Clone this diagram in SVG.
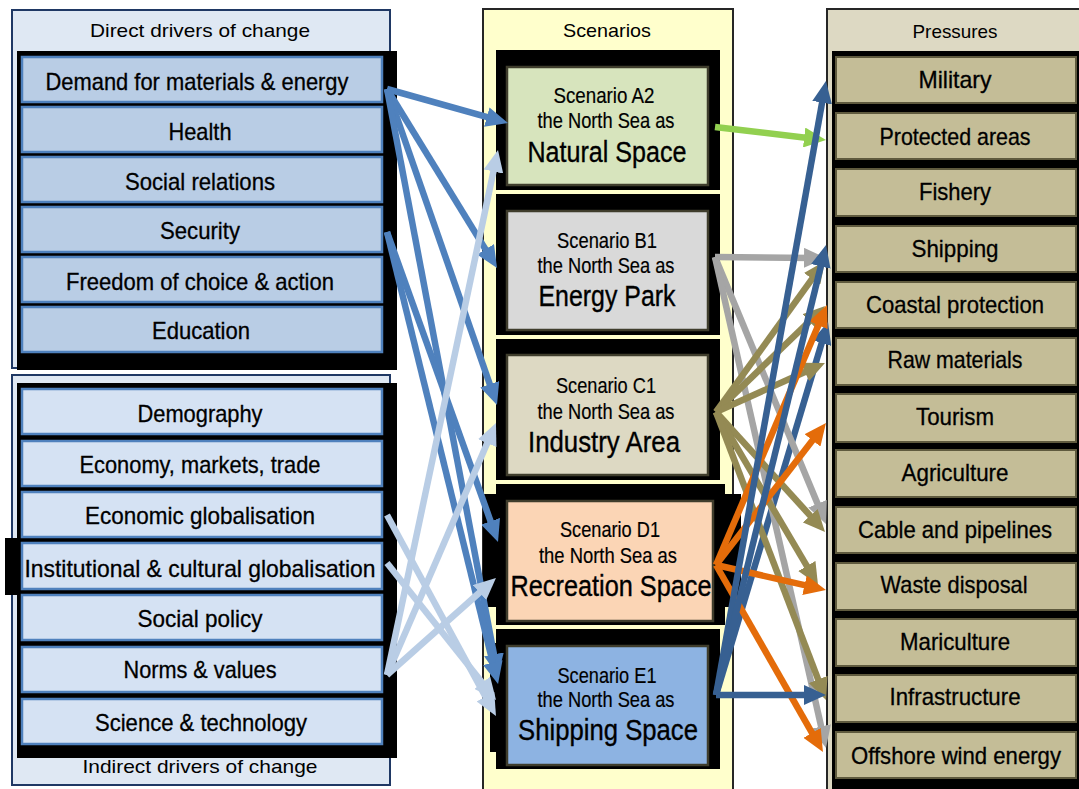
<svg xmlns="http://www.w3.org/2000/svg" width="1079" height="789" viewBox="0 0 1079 789">
<style>
.t{font-family:"Liberation Sans Narrow","Liberation Sans",Arial,sans-serif;font-size:24px;fill:#000;stroke:#000;stroke-width:0.3;text-anchor:middle}
.h{font-family:"Liberation Sans",Arial,sans-serif;font-size:19px;fill:#000;text-anchor:middle}
.s{font-family:"Liberation Sans Narrow","Liberation Sans",Arial,sans-serif;font-size:22px;fill:#000;stroke:#000;stroke-width:0.2;text-anchor:middle}
.b{font-family:"Liberation Sans Narrow","Liberation Sans",Arial,sans-serif;font-size:29px;fill:#000;stroke:#000;stroke-width:0.35;text-anchor:middle}
.blk{fill:#000}
.di{fill:#b9cde5;stroke:#4f81bd;stroke-width:2.5}
.ii{fill:#d5e2f3;stroke:#4f81bd;stroke-width:2.5}
.pi{fill:#c4bd97;stroke:#5f5a3e;stroke-width:2}
.sc{stroke:#3f3d2c;stroke-width:2.5}
.c{fill:none;stroke-width:6.5}
</style>
<defs>
<marker id="mB" viewBox="0 0 22 20" refX="8" refY="10" markerWidth="22" markerHeight="20" markerUnits="userSpaceOnUse" orient="auto"><path d="M0,0 L22,10 L0,20 z" fill="#4f81bd"/></marker>
<marker id="mL" viewBox="0 0 22 20" refX="8" refY="10" markerWidth="22" markerHeight="20" markerUnits="userSpaceOnUse" orient="auto"><path d="M0,0 L22,10 L0,20 z" fill="#b9cde5"/></marker>
<marker id="mG" viewBox="0 0 22 20" refX="8" refY="10" markerWidth="22" markerHeight="20" markerUnits="userSpaceOnUse" orient="auto"><path d="M0,0 L22,10 L0,20 z" fill="#92d050"/></marker>
<marker id="mY" viewBox="0 0 22 20" refX="8" refY="10" markerWidth="22" markerHeight="20" markerUnits="userSpaceOnUse" orient="auto"><path d="M0,0 L22,10 L0,20 z" fill="#a5a5a5"/></marker>
<marker id="mO" viewBox="0 0 22 20" refX="8" refY="10" markerWidth="22" markerHeight="20" markerUnits="userSpaceOnUse" orient="auto"><path d="M0,0 L22,10 L0,20 z" fill="#948a54"/></marker>
<marker id="mR" viewBox="0 0 22 20" refX="8" refY="10" markerWidth="22" markerHeight="20" markerUnits="userSpaceOnUse" orient="auto"><path d="M0,0 L22,10 L0,20 z" fill="#e46c0a"/></marker>
<marker id="mD" viewBox="0 0 22 20" refX="8" refY="10" markerWidth="22" markerHeight="20" markerUnits="userSpaceOnUse" orient="auto"><path d="M0,0 L22,10 L0,20 z" fill="#376092"/></marker>
</defs>
<rect width="1079" height="789" fill="#fff"/>

<g id="panel-direct">
<rect x="12" y="10" width="378" height="358" fill="#dfe8f3" stroke="#1f3864" stroke-width="2"/>
<text class="h" x="200" y="37" textLength="220" lengthAdjust="spacingAndGlyphs">Direct drivers of change</text>
<rect class="blk" x="17" y="51" width="380" height="319"/>
</g>
<g id="d-demand"><rect class="di" x="22" y="57" width="360" height="45"/><text class="t" x="197" y="90" textLength="303" lengthAdjust="spacingAndGlyphs">Demand for materials &amp; energy</text></g>
<g id="d-health"><rect class="di" x="22" y="107" width="360" height="45"/><text class="t" x="200" y="140" textLength="63" lengthAdjust="spacingAndGlyphs">Health</text></g>
<g id="d-social"><rect class="di" x="22" y="157" width="360" height="45"/><text class="t" x="200" y="190" textLength="150" lengthAdjust="spacingAndGlyphs">Social relations</text></g>
<g id="d-security"><rect class="di" x="22" y="207" width="360" height="45"/><text class="t" x="200" y="239" textLength="80" lengthAdjust="spacingAndGlyphs">Security</text></g>
<g id="d-freedom"><rect class="di" x="22" y="257" width="360" height="45"/><text class="t" x="200" y="290" textLength="268" lengthAdjust="spacingAndGlyphs">Freedom of choice &amp; action</text></g>
<g id="d-education"><rect class="di" x="22" y="307" width="360" height="45"/><text class="t" x="201" y="339" textLength="98" lengthAdjust="spacingAndGlyphs">Education</text></g>

<g id="panel-indirect">
<rect x="12" y="375" width="378" height="410" fill="#dfe8f3" stroke="#1f3864" stroke-width="2"/>
<rect class="blk" x="17" y="383" width="380" height="375"/>
<rect class="blk" x="5" y="538" width="392" height="57"/>
<text class="h" x="200" y="773" textLength="235" lengthAdjust="spacingAndGlyphs">Indirect drivers of change</text>
</g>
<g id="i-demography"><rect class="ii" x="22" y="389" width="360" height="45"/><text class="t" x="200" y="422" textLength="125" lengthAdjust="spacingAndGlyphs">Demography</text></g>
<g id="i-economy"><rect class="ii" x="22" y="441" width="360" height="45"/><text class="t" x="200" y="473" textLength="241" lengthAdjust="spacingAndGlyphs">Economy, markets, trade</text></g>
<g id="i-econglob"><rect class="ii" x="22" y="492" width="360" height="45"/><text class="t" x="200" y="524" textLength="230" lengthAdjust="spacingAndGlyphs">Economic globalisation</text></g>
<g id="i-instglob"><rect class="ii" x="22" y="543" width="360" height="46"/><text class="t" x="200" y="577" textLength="351" lengthAdjust="spacingAndGlyphs">Institutional &amp; cultural globalisation</text></g>
<g id="i-socialpolicy"><rect class="ii" x="22" y="595" width="360" height="45"/><text class="t" x="200" y="627" textLength="125" lengthAdjust="spacingAndGlyphs">Social policy</text></g>
<g id="i-norms"><rect class="ii" x="22" y="647" width="360" height="45"/><text class="t" x="200" y="678" textLength="153" lengthAdjust="spacingAndGlyphs">Norms &amp; values</text></g>
<g id="i-science"><rect class="ii" x="22" y="699" width="360" height="45"/><text class="t" x="201" y="731" textLength="212" lengthAdjust="spacingAndGlyphs">Science &amp; technology</text></g>

<g id="panel-scenarios">
<rect x="483" y="9" width="250" height="790" fill="#ffffcc" stroke="#262626" stroke-width="2"/>
<text class="h" x="607" y="37" textLength="88" lengthAdjust="spacingAndGlyphs">Scenarios</text>
</g>
<g id="s-a2">
<rect class="blk" x="496" y="50" width="224" height="140"/>
<rect class="sc" x="507" y="67" width="201" height="118" fill="#d7e4bd"/>
<text class="s" x="604" y="103" textLength="101" lengthAdjust="spacingAndGlyphs">Scenario A2</text>
<text class="s" x="606" y="128" textLength="137" lengthAdjust="spacingAndGlyphs">the North Sea as</text>
<text class="b" x="607" y="162" textLength="159" lengthAdjust="spacingAndGlyphs">Natural Space</text>
</g>
<g id="s-b1">
<rect class="blk" x="496" y="194" width="224" height="141"/>
<rect class="sc" x="507" y="211" width="201" height="119" fill="#d9d9d9"/>
<text class="s" x="607" y="248" textLength="100" lengthAdjust="spacingAndGlyphs">Scenario B1</text>
<text class="s" x="606" y="273" textLength="137" lengthAdjust="spacingAndGlyphs">the North Sea as</text>
<text class="b" x="607" y="306" textLength="137" lengthAdjust="spacingAndGlyphs">Energy Park</text>
</g>
<g id="s-c1">
<rect class="blk" x="496" y="339" width="224" height="141"/>
<rect class="sc" x="507" y="355" width="201" height="120" fill="#ddd9c3"/>
<text class="s" x="606" y="393" textLength="100" lengthAdjust="spacingAndGlyphs">Scenario C1</text>
<text class="s" x="606" y="419" textLength="137" lengthAdjust="spacingAndGlyphs">the North Sea as</text>
<text class="b" x="604" y="452" textLength="152" lengthAdjust="spacingAndGlyphs">Industry Area</text>
</g>
<g id="s-d1">
<rect class="blk" x="496" y="484" width="229" height="141"/>
<rect class="blk" x="483" y="494" width="258" height="113"/>
<rect class="sc" x="507" y="501" width="206" height="120" fill="#fbd5b5"/>
<text class="s" x="610" y="537" textLength="100" lengthAdjust="spacingAndGlyphs">Scenario D1</text>
<text class="s" x="608" y="563" textLength="138" lengthAdjust="spacingAndGlyphs">the North Sea as</text>
<text class="b" x="611" y="596" textLength="201" lengthAdjust="spacingAndGlyphs">Recreation Space</text>
</g>
<g id="s-e1">
<rect class="blk" x="496" y="629" width="224" height="140"/>
<rect class="blk" x="490" y="643" width="30" height="109"/>
<rect class="sc" x="507" y="646" width="201" height="119" fill="#8db3e2"/>
<text class="s" x="607" y="683" textLength="99" lengthAdjust="spacingAndGlyphs">Scenario E1</text>
<text class="s" x="606" y="707" textLength="137" lengthAdjust="spacingAndGlyphs">the North Sea as</text>
<text class="b" x="608" y="740" textLength="180" lengthAdjust="spacingAndGlyphs">Shipping Space</text>
</g>

<g id="panel-pressures">
<rect x="827" y="9" width="260" height="790" fill="#ddd9c3" stroke="#262626" stroke-width="2"/>
<text class="h" x="955" y="38" textLength="85" lengthAdjust="spacingAndGlyphs">Pressures</text>
<rect class="blk" x="832" y="51" width="255" height="745"/>
</g>
<g id="p-military"><rect class="pi" x="836" y="57" width="240" height="46"/><text class="t" x="955" y="88" textLength="73" lengthAdjust="spacingAndGlyphs">Military</text></g>
<g id="p-protected"><rect class="pi" x="836" y="113" width="240" height="46"/><text class="t" x="955" y="145" textLength="151" lengthAdjust="spacingAndGlyphs">Protected areas</text></g>
<g id="p-fishery"><rect class="pi" x="836" y="169" width="240" height="47"/><text class="t" x="955" y="200" textLength="72" lengthAdjust="spacingAndGlyphs">Fishery</text></g>
<g id="p-shipping"><rect class="pi" x="836" y="226" width="240" height="46"/><text class="t" x="955" y="257" textLength="87" lengthAdjust="spacingAndGlyphs">Shipping</text></g>
<g id="p-coastal"><rect class="pi" x="836" y="282" width="240" height="46"/><text class="t" x="955" y="313" textLength="178" lengthAdjust="spacingAndGlyphs">Coastal protection</text></g>
<g id="p-raw"><rect class="pi" x="836" y="338" width="240" height="47"/><text class="t" x="955" y="368" textLength="135" lengthAdjust="spacingAndGlyphs">Raw materials</text></g>
<g id="p-tourism"><rect class="pi" x="836" y="394" width="240" height="48"/><text class="t" x="955" y="425" textLength="78" lengthAdjust="spacingAndGlyphs">Tourism</text></g>
<g id="p-agriculture"><rect class="pi" x="836" y="450" width="240" height="47"/><text class="t" x="955" y="481" textLength="107" lengthAdjust="spacingAndGlyphs">Agriculture</text></g>
<g id="p-cable"><rect class="pi" x="836" y="507" width="240" height="46"/><text class="t" x="955" y="538" textLength="194" lengthAdjust="spacingAndGlyphs">Cable and pipelines</text></g>
<g id="p-waste"><rect class="pi" x="836" y="563" width="240" height="47"/><text class="t" x="954" y="593" textLength="147" lengthAdjust="spacingAndGlyphs">Waste disposal</text></g>
<g id="p-mariculture"><rect class="pi" x="836" y="619" width="240" height="47"/><text class="t" x="955" y="650" textLength="110" lengthAdjust="spacingAndGlyphs">Mariculture</text></g>
<g id="p-infrastructure"><rect class="pi" x="836" y="675" width="240" height="47"/><text class="t" x="955" y="705" textLength="131" lengthAdjust="spacingAndGlyphs">Infrastructure</text></g>
<g id="p-offshore"><rect class="pi" x="836" y="732" width="240" height="46"/><text class="t" x="956" y="764" textLength="210" lengthAdjust="spacingAndGlyphs">Offshore wind energy</text></g>

<g id="connectors">
<g stroke="#4f81bd" marker-end="url(#mB)">
<line class="c" x1="387" y1="89" x2="494.5" y2="119.2"/>
<line class="c" x1="387" y1="89" x2="489.7" y2="256.1"/>
<line class="c" x1="387" y1="89" x2="492.4" y2="391.8"/>
<line class="c" x1="387" y1="89" x2="495.4" y2="662.2"/>
<line class="c" x1="387" y1="232" x2="493.3" y2="528.8"/>
<line class="c" x1="387" y1="232" x2="494.7" y2="670.4"/>
</g>
<g stroke="#b9cde5" marker-end="url(#mL)">
<line class="c" x1="387" y1="675" x2="495.1" y2="163.7"/>
<line class="c" x1="387" y1="675" x2="490.4" y2="435.8"/>
<line class="c" x1="387" y1="675" x2="485.5" y2="587.3"/>
<line class="c" x1="387" y1="515" x2="489.3" y2="703.7"/>
<line class="c" x1="387" y1="563" x2="487.3" y2="689"/>
</g>
<g stroke="#92d050" marker-end="url(#mG)">
<line class="c" x1="715" y1="127" x2="812.1" y2="138.4"/>
</g>
<g stroke="#376092" marker-end="url(#mD)">
<line class="c" x1="716" y1="695" x2="824" y2="335.4"/>
</g>
<g stroke="#a5a5a5" marker-end="url(#mY)">
<line class="c" x1="715" y1="257" x2="812" y2="257.9"/>
<line class="c" x1="715" y1="257" x2="820.6" y2="511.1"/>
<line class="c" x1="715" y1="257" x2="822.9" y2="734.3"/>
</g>
<g stroke="#948a54" marker-end="url(#mO)">
<line class="c" x1="716" y1="412" x2="816.8" y2="272.4"/>
<line class="c" x1="716" y1="412" x2="815" y2="315.8"/>
<line class="c" x1="716" y1="412" x2="812.2" y2="368.7"/>
<line class="c" x1="716" y1="412" x2="815.6" y2="521.6"/>
<line class="c" x1="716" y1="412" x2="810.9" y2="572.9"/>
<line class="c" x1="716" y1="412" x2="821" y2="686.9"/>
</g>
<g stroke="#e46c0a" marker-end="url(#mR)">
<line class="c" x1="716" y1="565" x2="821.5" y2="317.9"/>
<line class="c" x1="716" y1="565" x2="817.4" y2="434.1"/>
<line class="c" x1="716" y1="565" x2="812.3" y2="586.9"/>
<line class="c" x1="716" y1="565" x2="816" y2="739.8"/>
</g>
<g stroke="#376092" marker-end="url(#mD)">
<line class="c" x1="716" y1="695" x2="823.5" y2="94.8"/>
<line class="c" x1="716" y1="695" x2="822.7" y2="258.6"/>
<line class="c" x1="716" y1="695" x2="812" y2="695"/>
</g>
</g>
</svg>
